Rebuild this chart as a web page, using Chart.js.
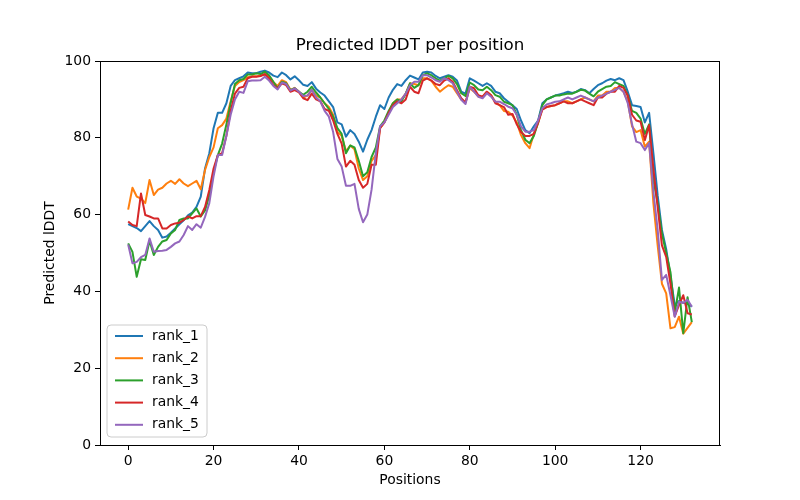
<!DOCTYPE html>
<html>
<head>
<meta charset="utf-8">
<script src="https://cdn.jsdelivr.net/npm/chart.js@4.4.0/dist/chart.umd.min.js"></script>
<style>
  html, body { margin: 0; padding: 0; background: #fff; }
  canvas { display: block; }
</style>
</head>
<body>
<canvas id="plddtChart" width="800" height="500"></canvas>
<script>
// valores (lDDT previsto por posição)
const rank1 = [
  57.5, 57, 56.5, 55.7, 57, 58.3, 57, 56, 54, 54.3,
  55.3, 56.4, 57.5, 58.5, 59.8, 60.5, 62, 64.7, 72, 76,
  82.5, 86.5, 86.5, 89, 93.5, 95, 95.5, 96, 97, 96.8,
  96.8, 97.2, 97.5, 97, 96.2, 95.8, 97, 96.3, 95.2, 96,
  95, 93.8, 93.5, 94.5, 92.8, 91.8, 91, 89.5, 88, 84,
  83.5, 80.3, 82, 81, 79, 76.4, 79.5, 82, 85.5, 88.5,
  87.5, 90.5, 92.5, 94, 93.5, 95, 96.2, 95.7, 95.2, 97,
  97.2, 97, 96.1, 95.5, 95.9, 96.3, 95.9, 94.9, 92, 91.5,
  95.5, 94.9, 94.2, 93.5, 94.2, 93.5, 92, 91.6, 90.3, 89.4,
  88.5, 87.5, 84.5, 82, 81.2, 83, 84.5, 89, 90, 90.5,
  91, 91.3, 91.6, 92, 91.7, 92, 92.7, 92.4, 91.6, 92.7,
  93.7, 94.2, 94.9, 95.3, 95, 95.5, 95, 92, 88.5, 88.3,
  88, 84, 86.5, 76, 65, 56, 51, 44, 36.5, 37.5,
  37, 37.2, 36
];
const rank2 = [
  61.3, 67, 64.7, 64.2, 63, 69, 65.1, 66.5, 67, 68.1,
  68.8, 68, 69.2, 68.1, 67.4, 68.1, 68.8, 66.6, 71.6, 75,
  77.5, 82.5, 83.3, 85, 89.5, 93.5, 94.5, 95, 95.8, 96,
  96, 96.2, 96.5, 96, 94.5, 93.5, 95, 94.5, 92.5, 93,
  92, 90.5, 91, 92.5, 91, 90.5, 89, 88, 86, 81.5,
  80.5, 76.5, 78, 77, 72, 69, 70, 74, 75.5, 82.5,
  84, 86.5, 89, 90, 90, 91.5, 94.2, 94, 93.7, 95.5,
  95.5, 94.9, 93.3, 92, 92.9, 93.7, 93.3, 91.6, 90, 89.2,
  92.9, 92, 90.7, 90.7, 92, 91.1, 89.4, 88.5, 87, 86.8,
  85.8, 84, 80.7, 78.6, 77.3, 81, 83.8, 87.7, 88, 88.3,
  88.5, 89, 89.5, 89.5, 89, 89.5, 90, 90.5, 90, 89.5,
  91, 91, 92, 92, 93, 93, 92, 89.5, 83, 81.5,
  82, 77.7, 79, 63, 52, 42, 39.5, 30.4, 30.7, 33.4,
  29, 30.5, 32
];
const rank3 = [
  52.5, 50.3, 43.8, 48.4, 48.2, 53.2, 49.5, 51.6, 53, 53.4,
  55.1, 56, 58.6, 59, 59, 60.3, 61.6, 59.5, 61.1, 65,
  71, 75.5, 78.5, 83.5, 89, 94, 95, 95.3, 96.5, 96.5,
  96.8, 96.6, 97.2, 96.3, 94.6, 92.9, 94.6, 94.2, 92.4, 92.9,
  92, 91.2, 92, 93.3, 91.8, 90.5, 89, 87.5, 85.5, 82.5,
  81, 76, 78, 77.5, 74, 70, 71, 75, 77.5, 83,
  84.5, 87, 89, 90, 89.5, 91.5, 94.2, 93, 93.7, 96.3,
  96.8, 96.3, 95.5, 94.9, 95.5, 96.1, 95.5, 94, 91.6, 90.9,
  94.4, 93.7, 92.6, 92.4, 93.3, 92.4, 91.1, 90.7, 89.4, 89,
  88.5, 86, 82, 79.5, 78.6, 80.5, 84, 88.5, 90, 90.5,
  91, 91, 91.3, 91.5, 91.5, 92, 92.5, 92.3, 91.5, 90.8,
  92, 92.7, 93.3, 93.5, 94.5, 94, 93.5, 91, 87, 86.5,
  85, 81, 83.5, 69, 63, 55, 50, 45, 34.3, 41,
  29.1, 38.5, 32
];
const rank4 = [
  58.2, 57.3, 57, 65.5, 59.9, 59.5, 59, 59, 56.4, 56.4,
  57.3, 57.7, 57.9, 58.6, 59.5, 59, 59.6, 59.6, 62, 66.4,
  72, 75.5, 76, 80.5, 87, 91.5, 93, 93.3, 95.5, 95.9,
  95.9, 96.1, 96.6, 95.5, 93.7, 92.9, 94.2, 93.7, 92, 92.4,
  91.8, 90.3, 89.8, 91.5, 90, 89.5, 87.5, 87, 84.5, 81,
  78.5, 72.5, 74, 73, 69, 67, 68, 73, 73, 82.5,
  84, 86.5, 88.5, 89.5, 89, 90, 93.3, 92, 91.6, 94.9,
  95.5, 94.9, 94, 93.7, 94.9, 95.5, 94.6, 92.4, 90.3, 89.2,
  93.3, 92.9, 91.1, 90.7, 92, 91.1, 89, 88.5, 88, 86,
  86.2, 83.5, 81.5, 80.5, 80.5, 81, 84, 87.3, 88, 88.3,
  88.5, 89, 89.5, 89, 89, 89.5, 90, 89.5, 89, 88.5,
  90.5, 90.5, 91.5, 92, 92, 93.5, 93, 91, 86, 84.5,
  84.2, 79.4, 83.3, 72, 62, 52, 49, 42, 33.5, 36.5,
  39, 34.3, 34
];
const rank5 = [
  52.2, 47.3, 47.7, 48.9, 49.5, 53.8, 50.3, 50.5, 50.6, 50.8,
  51.6, 52.5, 53, 54.7, 57, 56, 57.5, 56.6, 59.4, 63,
  70, 75.5, 75.5, 80.5, 86, 90, 92, 91.7, 94.7, 94.9,
  94.9, 95, 95.9, 94.9, 93.5, 92.6, 94.4, 94, 92.3, 92.9,
  92, 90.9, 91, 92.5, 90.5, 89.5, 87, 85.5, 81.5, 74.5,
  72.5, 67.5, 67.5, 68, 61.5, 58, 60, 66.5, 76, 83,
  84, 86, 88, 89, 90, 91.5, 93.7, 94.6, 94.6, 96.3,
  96.3, 95.7, 95, 94.6, 95.5, 95, 94.2, 92, 89.9, 88.8,
  93.3, 92, 90.7, 90.3, 91.6, 90.7, 89.4, 89.4, 88.8, 88.1,
  87.7, 86, 83, 81.6, 81.6, 82, 84.5, 87.7, 88.7, 89,
  89.4, 89.5, 90, 90.5, 90, 90.5, 91, 90.5, 90, 89.5,
  90.5, 91, 91.5, 92, 92.5, 93, 92, 89, 83.5, 79,
  78.6, 76.8, 78.6, 66, 56, 43, 44.3, 39, 33.4, 37.3,
  37, 37.8, 36
];

const seriesNames = ['rank_1', 'rank_2', 'rank_3', 'rank_4', 'rank_5'];
const seriesValues = [rank1, rank2, rank3, rank4, rank5];
const seriesColors = ['#1f77b4', '#ff7f0e', '#2ca02c', '#d62728', '#9467bd'];
const positions = rank1.map((_, i) => i);
const xTicks = [0, 20, 40, 60, 80, 100, 120];
const yTicks = [0, 20, 40, 60, 80, 100];

const FONT = 'DejaVu Sans';

// fundo branco, moldura, título, rótulos dos eixos e legenda no estilo matplotlib
const mplDecor = {
    id: 'mplDecor',
    beforeDraw(chart) {
        const ctx = chart.ctx;
        ctx.save();
        ctx.fillStyle = '#fff';
        ctx.fillRect(0, 0, chart.width, chart.height);
        ctx.restore();
    },
    afterDraw(chart) {
        const ctx = chart.ctx;
        const a = chart.chartArea;
        ctx.save();
        ctx.strokeStyle = '#000';
        ctx.lineWidth = 1;
        ctx.strokeRect(a.left + 0.5, a.top + 0.5, a.right - a.left - 1, a.bottom - a.top);

        ctx.fillStyle = '#000';
        ctx.textAlign = 'center';
        ctx.textBaseline = 'middle';
        const cx = (a.left + a.right) / 2;
        ctx.font = '16.7px "' + FONT + '"';
        ctx.fillText('Predicted lDDT per position', cx, 46);
        ctx.font = '13.9px "' + FONT + '"';
        ctx.fillText('Positions', cx, 480);
        ctx.save();
        ctx.translate(50, (a.top + a.bottom) / 2);
        ctx.rotate(-Math.PI / 2);
        ctx.fillText('Predicted lDDT', 0, 0);
        ctx.restore();

        // legenda (canto inferior esquerdo)
        const lx = 107, ly = 325, lw = 100, lh = 112, r = 4;
        ctx.beginPath();
        ctx.moveTo(lx + r, ly);
        ctx.arcTo(lx + lw, ly, lx + lw, ly + lh, r);
        ctx.arcTo(lx + lw, ly + lh, lx, ly + lh, r);
        ctx.arcTo(lx, ly + lh, lx, ly, r);
        ctx.arcTo(lx, ly, lx + lw, ly, r);
        ctx.closePath();
        ctx.fillStyle = 'rgba(255,255,255,0.8)';
        ctx.fill();
        ctx.strokeStyle = '#cccccc';
        ctx.lineWidth = 1;
        ctx.stroke();

        ctx.textAlign = 'left';
        ctx.font = '13.9px "' + FONT + '"';
        chart.data.datasets.forEach((ds, i) => {
            const y = 336 + i * 22.2;
            ctx.strokeStyle = ds.borderColor;
            ctx.lineWidth = 2;
            ctx.beginPath();
            ctx.moveTo(115, y);
            ctx.lineTo(143, y);
            ctx.stroke();
            ctx.fillStyle = '#000';
            ctx.fillText(ds.label, 152, y);
        });
        ctx.restore();
    }
};

const ctxPlddt = document.getElementById('plddtChart').getContext('2d');
new Chart(ctxPlddt, {
    type: 'line',
    data: {
        labels: positions,
        datasets: seriesValues.map((vals, i) => ({
            label: seriesNames[i],
            data: vals,
            borderColor: seriesColors[i],
            backgroundColor: seriesColors[i],
            borderWidth: 2,
            pointRadius: 0,
            tension: 0,
            fill: false,
            borderJoinStyle: 'round',
            order: seriesNames.length - i
        }))
    },
    options: {
        responsive: false,
        animation: false,
        devicePixelRatio: 1,
        layout: { padding: { left: 0, right: 80, top: 61, bottom: 0 } },
        plugins: {
            legend: { display: false },
            title: { display: false },
            tooltip: { enabled: false }
        },
        scales: {
            x: {
                type: 'linear',
                min: -6.6,
                max: 138.6,
                afterBuildTicks: s => { s.ticks = xTicks.map(v => ({ value: v })); },
                afterFit: s => { s.height = 55; },
                grid: { drawOnChartArea: false, drawTicks: true, tickLength: 5, color: '#000' },
                border: { display: true, color: '#000' },
                ticks: { color: '#000', font: { family: FONT, size: 13.9 }, padding: 3, maxRotation: 0 }
            },
            y: {
                min: 0,
                max: 100,
                afterBuildTicks: s => { s.ticks = yTicks.map(v => ({ value: v })); },
                afterFit: s => { s.width = 100; },
                grid: { drawOnChartArea: false, drawTicks: true, tickLength: 5, color: '#000' },
                border: { display: true, color: '#000' },
                ticks: { color: '#000', font: { family: FONT, size: 13.9 }, padding: 4 }
            }
        }
    },
    plugins: [mplDecor]
});
</script>
</body>
</html>
